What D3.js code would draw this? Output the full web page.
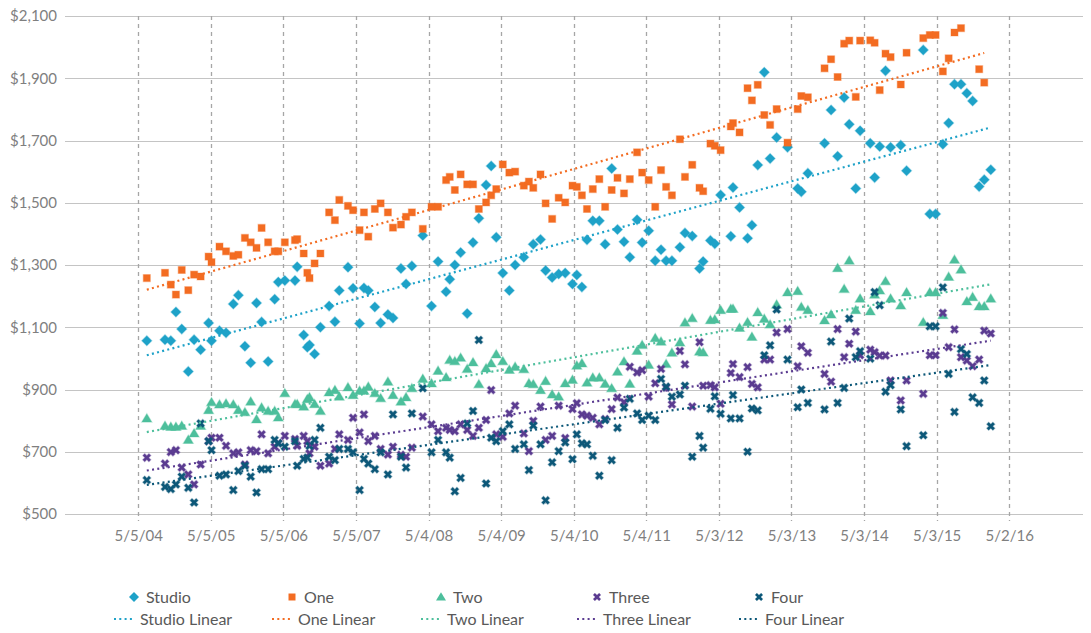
<!DOCTYPE html>
<html>
<head>
<meta charset="utf-8">
<script src="https://cdn.jsdelivr.net/npm/d3@7"></script>
<style>
  body { margin: 0; background: #fff; }
  text { font-family: Lato, "Open Sans", sans-serif; }
</style>
</head>
<body>
<div id="chart"></div>
<script>
// x positions of the observations, as decimal years
var obsYears = [2004.46, 2004.71, 2004.79, 2004.86, 2004.94, 2005.03, 2005.11, 2005.20, 2005.31, 2005.35,
  2005.46, 2005.55, 2005.65, 2005.72, 2005.81, 2005.89, 2005.97, 2006.04, 2006.13, 2006.22,
  2006.27, 2006.36, 2006.50, 2006.53, 2006.62, 2006.67, 2006.70, 2006.77, 2006.85, 2006.97,
  2007.05, 2007.11, 2007.23, 2007.30, 2007.39, 2007.45, 2007.51, 2007.60, 2007.68, 2007.78,
  2007.85, 2007.96, 2008.03, 2008.11, 2008.26, 2008.38, 2008.47, 2008.58, 2008.63, 2008.70,
  2008.78, 2008.87, 2008.95, 2009.03, 2009.13, 2009.20, 2009.27, 2009.36, 2009.45, 2009.53,
  2009.65, 2009.72, 2009.78, 2009.88, 2009.95, 2010.04, 2010.13, 2010.22, 2010.32, 2010.38,
  2010.45, 2010.52, 2010.60, 2010.69, 2010.77, 2010.86, 2010.94, 2011.03, 2011.11, 2011.21,
  2011.28, 2011.37, 2011.46, 2011.54, 2011.61, 2011.69, 2011.80, 2011.87, 2011.97, 2012.07,
  2012.12, 2012.22, 2012.28, 2012.36, 2012.50, 2012.53, 2012.62, 2012.73, 2012.79, 2012.87,
  2012.96, 2013.04, 2013.13, 2013.28, 2013.42, 2013.47, 2013.56, 2013.79, 2013.88, 2013.97,
  2014.06, 2014.13, 2014.22, 2014.28, 2014.42, 2014.48, 2014.55, 2014.63, 2014.70, 2014.84,
  2014.92, 2015.15, 2015.24, 2015.32, 2015.42, 2015.50, 2015.58, 2015.67, 2015.75, 2015.83,
  2015.92, 2015.99, 2016.08];

var studio = [1057, 1060, 1057, 1149, 1094, 958, 1060, 1028, 1114, 1057,
  1089, 1082, 1175, 1203, 1039, 986, 1178, 1117, 990, 1190,
  1245, 1250, 1250, 1294, 1075, 1036, 1043, 1014, 1100, 1168,
  1118, 1218, 1293, 1225, 1112, 1226, 1218, 1165, 1114, 1141,
  1130, 1289, 1239, 1297, 1395, 1168, 1311, 1214, 1254, 1300,
  1340, 1144, 1372, 1450, 1557, 1618, 1389, 1274, 1218, 1300,
  1325, null, 1367, 1382, 1282, 1260, 1271, 1274, 1239, 1268,
  1229, 1381, 1442, 1442, 1367, 1610, 1414, 1375, 1325, 1445,
  1372, 1410, 1314, 1349, 1314, 1314, 1357, 1403, 1393, 1289,
  1311, 1379, 1368, 1525, 1392, 1549, 1485, 1386, 1428, 1621,
  1919, 1642, 1710, 1678, 1546, 1535, 1595, 1691, 1798, 1649,
  1838, 1752, 1546, 1731, 1691, 1581, 1681, 1924, 1678, 1685,
  1603, 1991, 1464, 1464, 1688, 1756, 1881, 1881, 1852, 1827,
  1552, 1574, 1606];

var one = [1258, 1275, 1237, 1205, 1284, 1219, 1269, 1263, 1327, 1309,
  1359, 1344, 1329, 1333, 1387, 1373, 1355, 1419, 1373, 1344,
  1344, 1373, 1380, 1383, 1337, 1275, 1258, 1305, 1337, 1469,
  1444, 1509, 1490, 1476, 1412, 1469, 1391, 1480, 1498, 1469,
  1420, 1430, 1455, 1469, 1416, 1487, 1487, 1573, 1583, 1541,
  1591, 1559, 1559, 1480, 1501, 1524, 1544, 1623, 1597, 1600,
  1555, 1568, 1548, 1591, 1498, 1448, 1516, 1501, 1555, 1551,
  1524, 1480, 1544, 1576, 1487, 1541, 1580, 1530, 1576, 1662,
  1597, 1573, 1487, 1605, 1551, 1524, 1704, 1583, 1622, 1548,
  1537, 1690, 1683, 1669, 1745, 1756, 1726, 1868, 1829, 1879,
  1782, 1750, 1801, 1693, 1801, 1843, 1839, 1932, 1961, 1904,
  2011, 2021, 1840, 2021, 2022, 2014, 1862, 1979, 1968, 1880,
  1982, 2029, 2039, 2039, 1922, 1964, 2047, 2061, null, null,
  1929, 1886, null];

var two = [807, 783, 780, 780, 783, 738, 759, 783, 834, 859,
  852, 855, 852, 834, 827, 861, 804, 842, 831, 831,
  810, 888, 853, 853, 845, 869, 875, 853, 831, 891,
  898, 877, 907, 882, 896, 896, 909, 888, 872, 925,
  882, 861, 875, 904, 934, 920, 960, 939, 995, 991,
  1002, 966, 987, 917, 968, 984, 1013, 991, 963, 973,
  965, 920, 917, 898, 927, 884, 877, 920, 931, 977,
  984, 922, 938, 938, 918, 904, 957, 990, 918, 1024,
  1043, 979, 1065, 1054, 982, 1018, 1051, 1115, 1129, 1022,
  1019, 1123, 1125, 1155, 1159, 1159, 1098, 1116, 1069, 1148,
  1127, 1109, 1173, 1212, 1216, 1165, 1155, 1122, 1141, 1290,
  1223, 1314, 1155, 1192, 1151, 1205, 1218, 1248, 1192, 1170,
  1212, 1116, 1212, 1212, 1139, 1262, 1317, 1285, 1183, 1197,
  1167, 1167, 1192];

var three = [681, 662, 699, 705, 649, 627, 595, 659, 734, 745,
  745, 719, 695, 698, 659, 705, 702, 756, 695, 716,
  728, 751, 741, 719, 751, 734, 695, 716, 655, 662,
  709, 756, 738, 809, 762, 820, 734, 751, 709, 691,
  716, 690, 684, 713, 813, 788, 766, 777, 770, 766,
  788, 770, 751, 777, 802, 898, 756, 748, 823, 848,
  759, 702, 799, 845, 738, 751, 848, 744, 837, 856,
  820, 816, 809, 788, 805, 837, 874, 859, 973, 955,
  962, 877, 920, 966, 906, 852, 1024, 981, 845, 1052,
  912, 914, 907, 854, 953, 982, 940, 972, 918, 907,
  996, 996, 1083, 1094, 975, 1039, 1018, 950, 925, 1094,
  1004, 1047, 1086, 1010, 1028, 1020, 1009, 1009, 929, 865,
  929, 886, 1010, 1010, 1146, 1036, 1093, 1004, 993, 975,
  996, 1089, 1080];

var four = [609, 587, 580, 595, 620, 584, 537, 791, 734, 705,
  623, 627, 577, 638, 655, 620, 569, 644, 644, 738,
  727, 716, 734, 655, 677, 681, 719, 738, 777, 684,
  673, 709, 709, 698, 577, 677, 662, 644, 698, 627,
  820, 684, 649, 823, 904, 698, 738, 698, 681, 573,
  616, 791, 831, 1059, 598, 745, 734, 766, 788, 709,
  724, 641, 784, 724, 544, 666, 702, 730, 676, 756,
  727, 724, 687, 623, 802, 673, 777, 842, 870, 823,
  802, 816, 802, 934, 909, 877, 884, 912, 684, 751,
  713, 838, 878, 822, 807, 882, 807, 700, 839, 833,
  1010, 1042, 1157, 996, 843, 900, 857, 836, 1054, 857,
  905, 1128, 1004, 1023, 999, 1213, 1171, 893, 914, 836,
  718, 753, 1103, 1103, 1228, 950, 828, 1030, 1014, 875,
  857, 929, 782];

var seriesNames = ["Studio", "One", "Two", "Three", "Four"];
var seriesColors = ["#1ea2c8", "#f36c22", "#4dbf9c", "#5b3c91", "#0d5879"];
var seriesShapes = ["diamond", "square", "triangle", "cross", "cross"];
var seriesValues = [studio, one, two, three, four];

var tickLabels = ["5/5/04", "5/5/05", "5/5/06", "5/5/07", "5/4/08", "5/4/09", "5/4/10",
  "5/4/11", "5/3/12", "5/3/13", "5/3/14", "5/3/15", "5/2/16"];
var yTicks = [500, 700, 900, 1100, 1300, 1500, 1700, 1900, 2100];

//svg dimensions
var svgWidth = 1091;
var svgHeight = 633;
var margin = { top: 16, right: 8, bottom: 119, left: 65 };
var width = svgWidth - margin.left - margin.right;
var height = svgHeight - margin.top - margin.bottom;

var svg = d3.select("#chart").append("svg")
  .attr("width", svgWidth)
  .attr("height", svgHeight);

var chartGroup = svg.append("g")
  .attr("transform", `translate(${margin.left}, ${margin.top})`);

//decimal year -> Date
function yearToDate(y) {
  var yr = Math.floor(y);
  var start = new Date(yr, 0, 1), end = new Date(yr + 1, 0, 1);
  return new Date(+start + (y - yr) * (end - start));
}
var parseTick = d3.timeParse("%m/%d/%y");
var tickDates = tickLabels.map(parseTick);

//scales
var xScale = d3.scaleTime()
  .domain([new Date(2003, 4, 3), new Date(2017, 4, 8)])
  .range([0, width]);
var yScale = d3.scaleLinear()
  .domain([500, 2100])
  .range([height, 0]);

//horizontal gridlines
chartGroup.append("g")
  .selectAll("line")
  .data(yTicks)
  .enter()
  .append("line")
  .attr("x1", 0)
  .attr("x2", width)
  .attr("y1", d => Math.round(yScale(d)) + 0.5)
  .attr("y2", d => Math.round(yScale(d)) + 0.5)
  .attr("stroke", "#c4c4c4")
  .attr("stroke-width", 1);

//vertical dashed gridlines
chartGroup.append("g")
  .selectAll("line")
  .data(tickDates)
  .enter()
  .append("line")
  .attr("x1", d => Math.round(xScale(d)) + 0.5)
  .attr("x2", d => Math.round(xScale(d)) + 0.5)
  .attr("y1", 0)
  .attr("y2", height + 7)
  .attr("stroke", "#a6a6a6")
  .attr("stroke-width", 1.3)
  .attr("stroke-dasharray", "4,4");

//y axis labels
var yAxis = d3.axisLeft(yScale)
  .tickValues(yTicks)
  .tickSize(0)
  .tickPadding(8)
  .tickFormat(d3.format("$,"));
var yAxisG = chartGroup.append("g").call(yAxis);
yAxisG.select(".domain").remove();
yAxisG.selectAll("text")
  .attr("font-size", "15px")
  .attr("fill", "#7f7f7f")
  .style("font-family", "Lato, sans-serif");

//x axis labels
var xAxis = d3.axisBottom(xScale)
  .tickValues(tickDates)
  .tickSize(0)
  .tickPadding(16)
  .tickFormat((d, i) => tickLabels[i]);
var xAxisG = chartGroup.append("g")
  .attr("transform", `translate(0, ${height})`)
  .call(xAxis);
xAxisG.select(".domain").remove();
xAxisG.selectAll("text")
  .attr("font-size", "15px")
  .attr("fill", "#7f7f7f")
  .style("font-family", "Lato, sans-serif");

//marker shapes
function markerPath(shape) {
  if (shape === "diamond") return "M0,-5L5,0L0,5L-5,0Z";
  if (shape === "square") return "M-3.5,-3.5H3.5V3.5H-3.5Z";
  if (shape === "triangle") return "M0,-4.8L5,3.6L-5,3.6Z";
  //bold x
  var a = 4, w = 1.9;
  return `M${-a},${-a + w}L${-a + w},${-a}L0,${-w}L${a - w},${-a}L${a},${-a + w}L${w},0` +
    `L${a},${a - w}L${a - w},${a}L0,${w}L${-a + w},${a}L${-a},${a - w}L${-w},0Z`;
}

//points for each series
seriesValues.forEach(function (vals, s) {
  var pts = [];
  vals.forEach(function (v, i) {
    if (v !== null) pts.push({ date: yearToDate(obsYears[i]), value: v });
  });
  chartGroup.append("g")
    .selectAll("path")
    .data(pts)
    .enter()
    .append("path")
    .attr("d", markerPath(seriesShapes[s]))
    .attr("transform", d => `translate(${xScale(d.date)}, ${yScale(d.value)})`)
    .attr("fill", seriesColors[s])
    .attr("stroke", seriesColors[s])
    .attr("stroke-opacity", 0.35)
    .attr("stroke-width", 1.2);
});

//linear trendlines
seriesValues.forEach(function (vals, s) {
  var pts = [];
  vals.forEach(function (v, i) {
    if (v !== null) pts.push([+yearToDate(obsYears[i]), v]);
  });
  var mx = d3.mean(pts, d => d[0]), my = d3.mean(pts, d => d[1]);
  var sxy = d3.sum(pts, d => (d[0] - mx) * (d[1] - my));
  var sxx = d3.sum(pts, d => (d[0] - mx) * (d[0] - mx));
  var slope = sxy / sxx, icpt = my - slope * mx;
  var x0 = d3.min(pts, d => d[0]), x1 = d3.max(pts, d => d[0]);
  chartGroup.append("line")
    .attr("x1", xScale(new Date(x0)))
    .attr("y1", yScale(icpt + slope * x0))
    .attr("x2", xScale(new Date(x1)))
    .attr("y2", yScale(icpt + slope * x1))
    .attr("stroke", seriesColors[s])
    .attr("stroke-width", 2.2)
    .attr("stroke-dasharray", "2,3.3");
});

//legend
var legendX = [120, 278, 427, 583, 745];
var legend = svg.append("g");
seriesNames.forEach(function (name, s) {
  var g = legend.append("g").attr("transform", `translate(${legendX[s]}, 0)`);
  g.append("path")
    .attr("d", markerPath(seriesShapes[s]))
    .attr("transform", "translate(14, 597)")
    .attr("fill", seriesColors[s]);
  g.append("text")
    .attr("x", 26)
    .attr("y", 603)
    .attr("font-size", "16px")
    .attr("fill", "#595959")
    .text(name);
  g.append("line")
    .attr("x1", -6).attr("x2", 15)
    .attr("y1", 619).attr("y2", 619)
    .attr("stroke", seriesColors[s])
    .attr("stroke-width", 2.2)
    .attr("stroke-dasharray", "2,3.3");
  g.append("text")
    .attr("x", 20)
    .attr("y", 625)
    .attr("font-size", "16px")
    .attr("fill", "#595959")
    .text(name + " Linear");
});
</script>
</body>
</html>
